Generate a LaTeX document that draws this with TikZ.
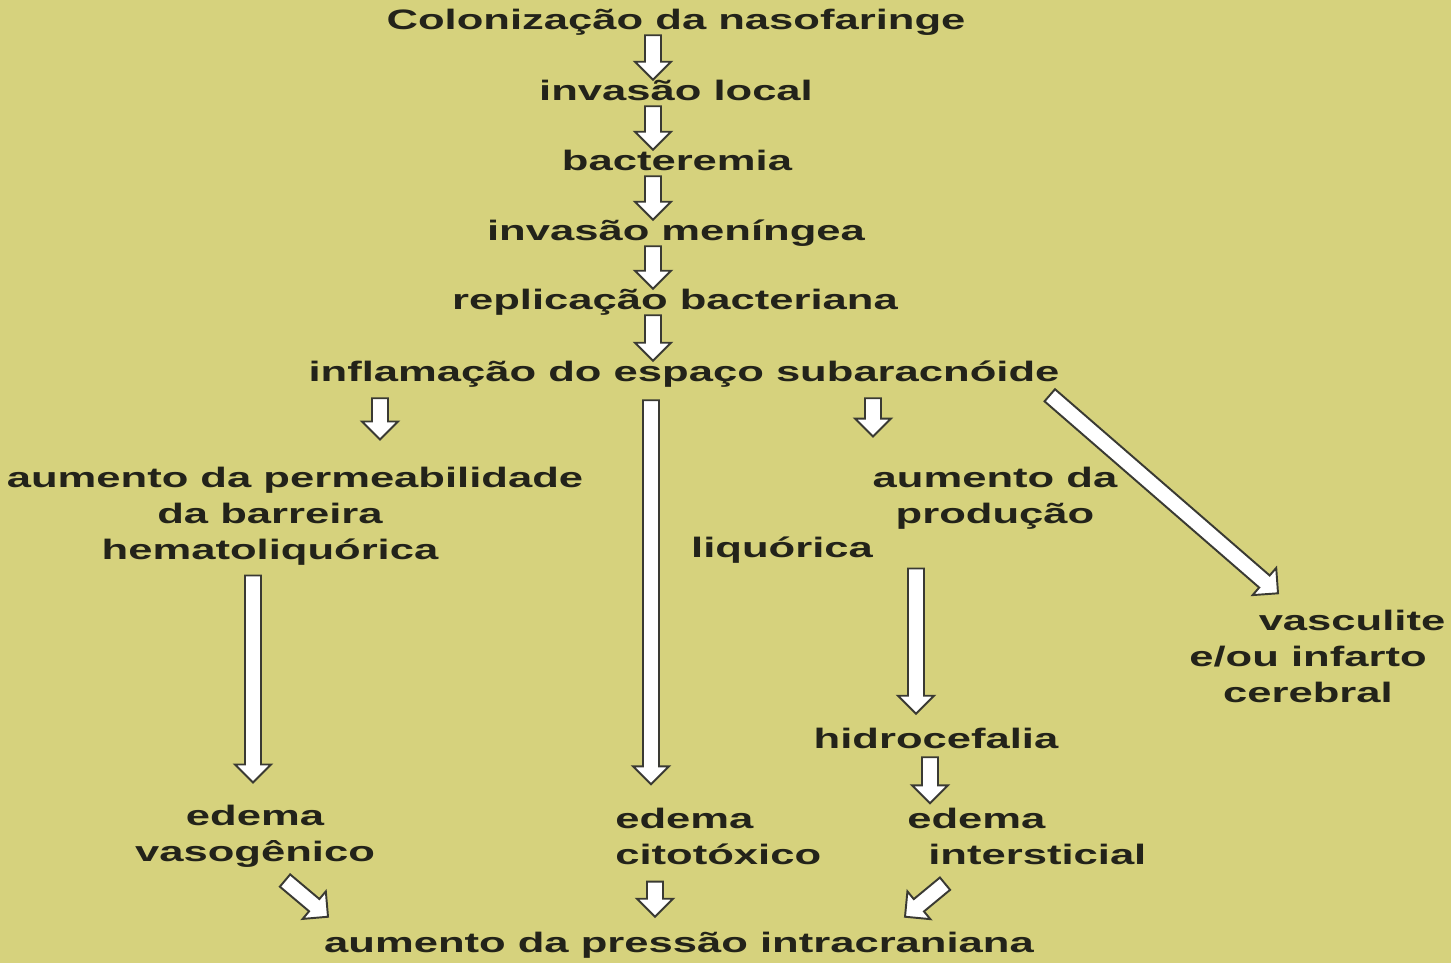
\documentclass[tikz,border=0pt]{standalone}
\usepackage{fontspec}
\newfontfamily\diagfont{Liberation Sans}[FakeStretch=1.55]
\usetikzlibrary{calc}
\definecolor{khaki}{HTML}{D6D27D}
\definecolor{inkdk}{HTML}{23231A}
\definecolor{arrline}{HTML}{3A3A33}

\tikzset{
  lbl/.style={font=\diagfont\bfseries\fontsize{16}{20.5}\selectfont, text=inkdk, inner sep=0pt},
  oneline/.style={lbl, text height=11.5pt, text depth=3.2pt},
  arrowbox/.style={fill=white, draw=arrline, line width=1.1pt, line join=miter},
}

% block arrow from #1 to #2 (shaft, then head)
\newcommand{\blockarrow}[2]{%
  \coordinate (ba-s) at #1;
  \coordinate (ba-e) at #2;
  \coordinate (ba-q) at ($(ba-e)!0.36cm!(ba-s)$);
  \filldraw[arrowbox] ($(ba-s)!0.16cm!90:(ba-e)$) -- ($(ba-q)!0.16cm!90:(ba-e)$)
    -- ($(ba-q)!0.36cm!90:(ba-e)$) -- (ba-e) -- ($(ba-q)!0.36cm!-90:(ba-e)$)
    -- ($(ba-q)!0.16cm!-90:(ba-e)$) -- ($(ba-s)!0.16cm!-90:(ba-e)$) -- cycle;
}

\begin{document}
\begin{tikzpicture}

% Background
\useasboundingbox (0,0) rectangle (29.02,-19.26);
\fill[khaki] (0,0) rectangle (29.02,-19.26);

% Main chain
\node[oneline] (col) at (13.52,-0.44) {Colonização da nasofaringe};
\node[oneline] (inv) at (13.52,-1.86) {invasão local};
\node[oneline] (bac) at (13.54,-3.26) {bacteremia};
\node[oneline] (men) at (13.52,-4.66) {invasão meníngea};
\node[oneline] (rep) at (13.50,-6.04) {replicação bacteriana};
\node[oneline] (inf) at (13.68,-7.48) {inflamação do espaço subaracnóide};

\coordinate (ax) at (13.06,0);
\blockarrow{(col.south -| ax)}{(inv.north -| ax)}
\blockarrow{(inv.south -| ax)}{(bac.north -| ax)}
\blockarrow{(bac.south -| ax)}{(men.north -| ax)}
\blockarrow{(men.south -| ax)}{(rep.north -| ax)}
\blockarrow{(rep.south -| ax)}{(inf.north -| ax)}

% Branches
\node[lbl, align=center] (perm) at (5.4,-10.32)
  {\hspace*{1.0cm}aumento da permeabilidade\\da barreira\\hematoliquórica};
\node[lbl, align=center] (prod) at (19.9,-9.96) {aumento da\\produção};
\node[oneline] (liq) at (15.64,-11.0) {liquórica};
\node[lbl, align=center] (vasc) at (26.16,-13.12)
  {\hspace*{1.76cm}vasculite\\e/ou infarto\\cerebral};
\node[oneline] (hid) at (18.72,-14.82) {hidrocefalia};

\node[lbl, align=center] (vaso) at (5.1,-16.72) {edema\\vasogênico};
\node[lbl, align=left, anchor=west] (cito) at (12.3,-16.72) {edema\\citotóxico};
\node[lbl, align=left, anchor=west] (inter) at (18.14,-16.72)
  {edema\\\hspace*{0.42cm}intersticial};

\node[oneline] (pic) at (13.58,-18.9) {aumento da pressão intracraniana};

\blockarrow{($(inf.south)+(-6.08,-0.22)$)}{($(perm.north)+(2.2,0.54)$)}
\blockarrow{($(inf.south)+(-0.66,-0.26)$)}{($(cito.north west)+(0.72,0.46)$)}
\blockarrow{($(inf.south)+(3.78,-0.22)$)}{($(prod.north)+(-2.44,0.6)$)}
\blockarrow{($(inf.south east)+(-0.2,-0.16)$)}{($(vasc.north)+(-0.6,0.32)$)}
\blockarrow{($(perm.south)+(-0.34,-0.2)$)}{($(vaso.north)+(-0.04,0.44)$)}
\blockarrow{($(prod.south)+(-1.58,-0.78)$)}{($(hid.north)+(-0.4,0.28)$)}
\blockarrow{($(hid.south)+(-0.12,-0.06)$)}{($(inter.north west)+(0.46,0.08)$)}

% Into the pressure box
\blockarrow{($(vaso.south)+(0.6,-0.26)$)}{($(pic.north)+(-7.02,0.3)$)}
\blockarrow{($(cito.south west)+(0.8,-0.34)$)}{($(pic.north)+(-0.48,0.3)$)}
\blockarrow{($(inter.south west)+(0.76,-0.38)$)}{($(pic.north)+(4.52,0.3)$)}

\end{tikzpicture}
\end{document}
